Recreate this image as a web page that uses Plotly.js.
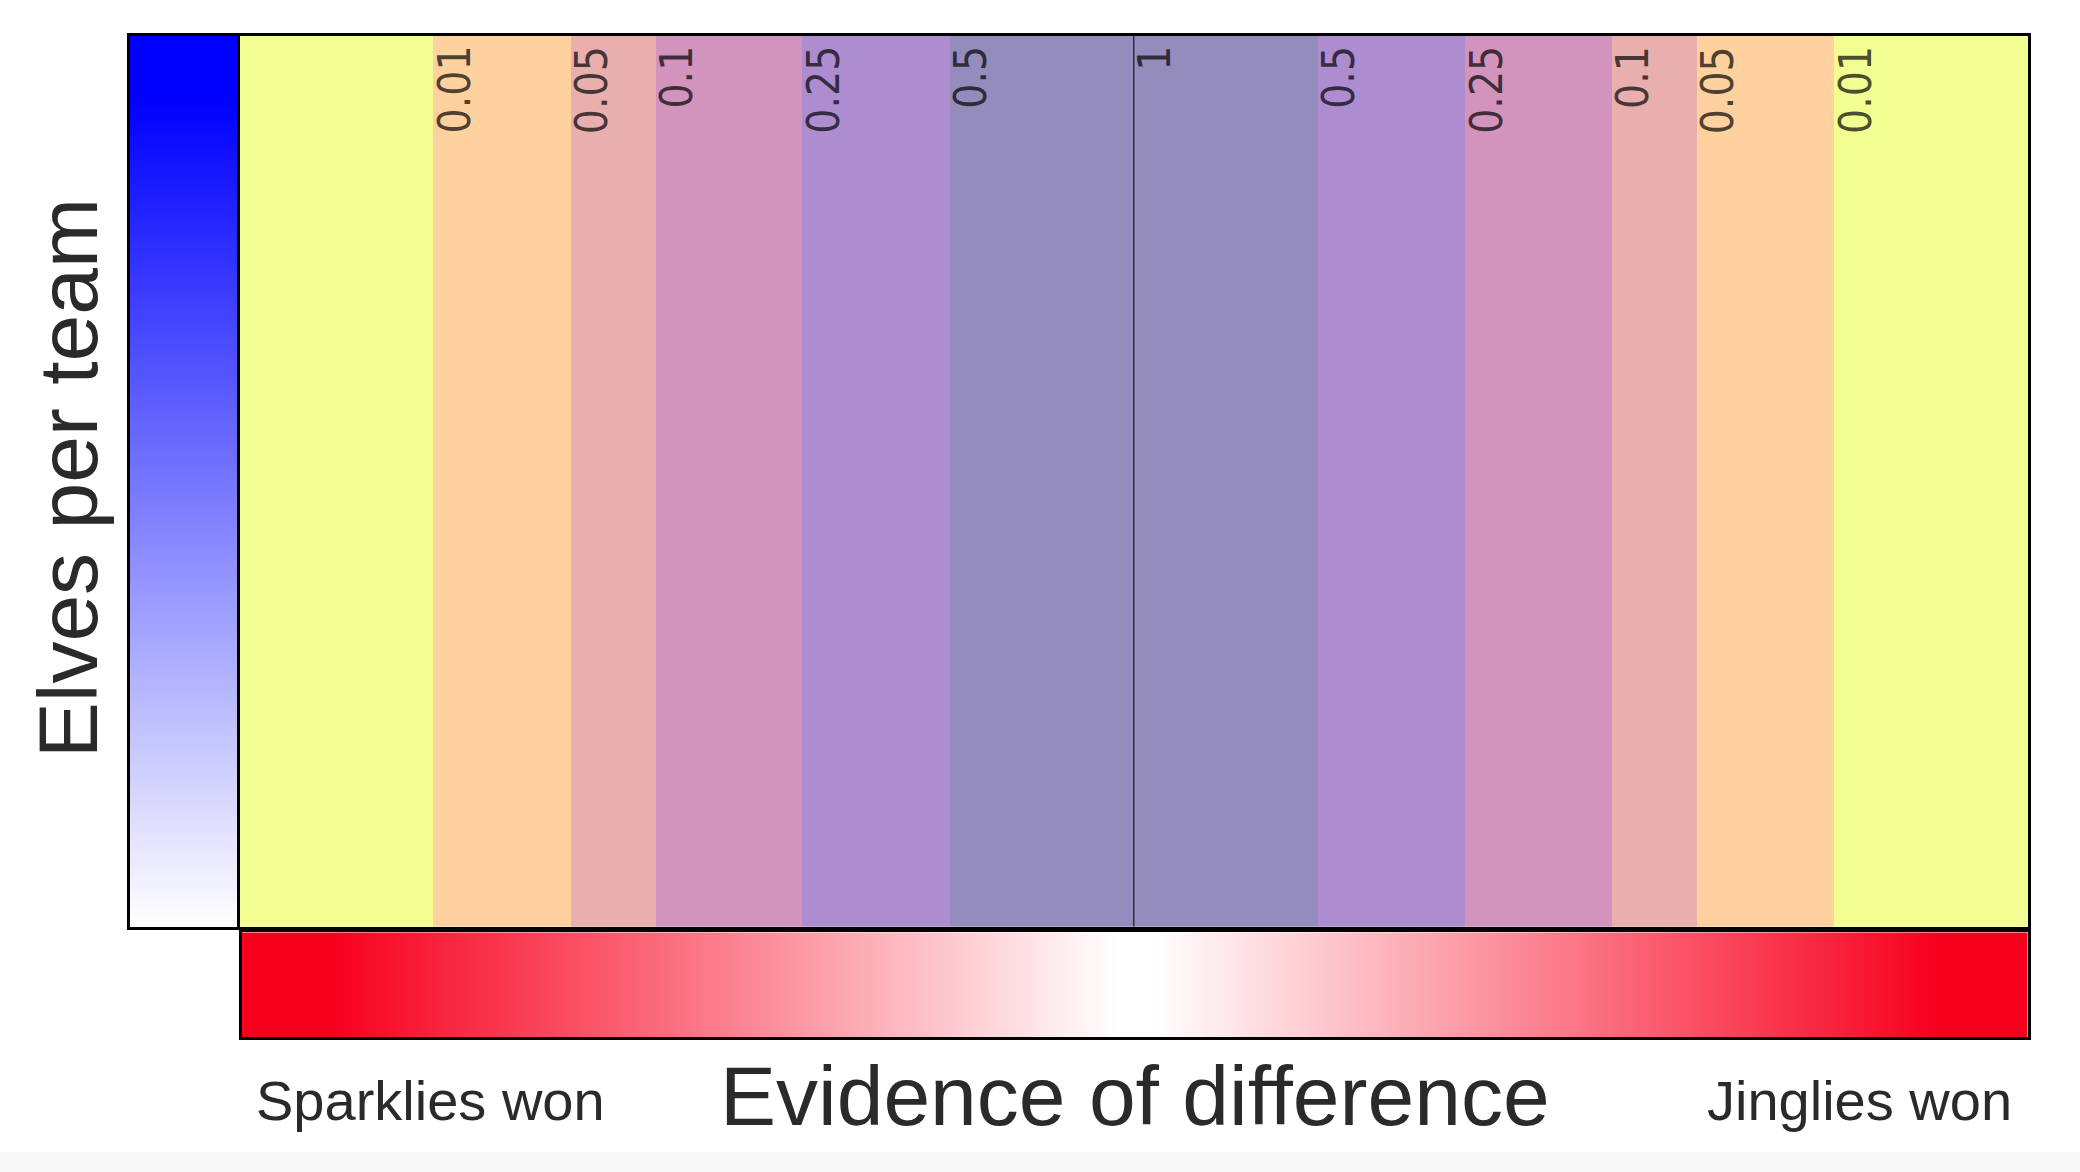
<!DOCTYPE html>
<html>
<head>
<meta charset="utf-8">
<script src="https://cdn.plot.ly/plotly-3.0.1.min.js"></script>
<style>
  html, body { margin: 0; padding: 0; background: #f8f8f8; }
  #chart { width: 2080px; height: 1152px; background: #ffffff; }
</style>
</head>
<body>
<div id="chart"></div>
<script>
// ---- data ----
// band edges on the "evidence of difference" axis (-1 = Sparklies extreme, +1 = Jinglies extreme)
const bandEdges = [-1, -0.784, -0.630, -0.535, -0.371, -0.206, 0, 0.206, 0.371, 0.535, 0.630, 0.784, 1];
// colour level of each band (0 = strongest evidence, 5 = none)
const bandLevels = [0, 1, 2, 3, 4, 5, 5, 4, 3, 2, 1, 0];
// p-value labels placed at the inner band edges
const pLabels = ['0.01', '0.05', '0.1', '0.25', '0.5', '1', '0.5', '0.25', '0.1', '0.05', '0.01'];
const bandColors = ['#f2fe91', '#fed19e', '#e9aeae', '#d293bc', '#ad8cd0', '#948cbd'];

// evidence colour bar (red): strength at left end, centre, right end
const evidenceX = [-1, 0, 1];
const evidenceZ = [1, 0, 1];
// elves-per-team colour bar (blue): bottom to top
const elvesY = [0, 1];
const elvesZ = [0, 1];

const titleX = 'Evidence of difference';
const titleY = 'Elves per team';
const leftNote = 'Sparklies won';
const rightNote = 'Jinglies won';

// ---- layout helpers ----
const W = 2080, H = 1152;
const px = v => v / W;
const py = v => 1 - v / H;

const bandScale = bandColors.map((c, i) => [i / (bandColors.length - 1), c]);

const traces = [
  {
    type: 'heatmap',
    x: bandEdges,
    y: [0, 1],
    z: [bandLevels],
    zmin: 0, zmax: 5,
    colorscale: bandScale,
    showscale: false,
    zsmooth: false,
    hoverinfo: 'skip',
    xaxis: 'x', yaxis: 'y'
  },
  {
    type: 'scatter',
    mode: 'lines',
    x: [0, 0],
    y: [0, 1],
    line: { color: '#222222', width: 1.3 },
    hoverinfo: 'skip',
    showlegend: false,
    xaxis: 'x', yaxis: 'y'
  },
  {
    type: 'heatmap',
    x: evidenceX,
    y: [0, 1],
    z: [evidenceZ, evidenceZ],
    zmin: 0, zmax: 1,
    colorscale: [[0, '#ffffff'], [0.02, '#ffffff'], [0.9, '#f7001e'], [1, '#f7001e']],
    showscale: false,
    zsmooth: 'best',
    hoverinfo: 'skip',
    xaxis: 'x2', yaxis: 'y2'
  },
  {
    type: 'heatmap',
    x: [0, 1],
    y: elvesY,
    z: elvesZ.map(v => [v, v]),
    zmin: 0, zmax: 1,
    colorscale: [[0, '#ffffff'], [0.93, '#0000ff'], [1, '#0000ff']],
    showscale: false,
    zsmooth: 'best',
    hoverinfo: 'skip',
    xaxis: 'x3', yaxis: 'y3'
  }
];

const boxAxis = extra => Object.assign({
  showgrid: false, zeroline: false, showticklabels: false, ticks: '',
  showline: true, mirror: true, linecolor: '#000000', linewidth: 3,
  fixedrange: true
}, extra);

const labelFont = { family: '"Liberation Sans Narrow", "Arial Narrow", "DejaVu Sans Condensed", sans-serif', size: 44, color: 'rgba(0,0,0,0.7)' };
const titleFont = { family: '"Liberation Sans", Arial, Helvetica, sans-serif', size: 84, color: '#2a2a2a' };
const noteFont = { family: '"Liberation Sans", Arial, Helvetica, sans-serif', size: 56, color: '#2a2a2a' };

const annotations = pLabels.map((t, i) => ({
  x: bandEdges[i + 1], y: 1, xref: 'x', yref: 'y',
  text: t, textangle: -90, xanchor: 'left', yanchor: 'top',
  xshift: -7, yshift: -8, showarrow: false, font: labelFont
}));

annotations.push(
  { x: px(1135), y: py(1096), xref: 'paper', yref: 'paper', text: titleX, showarrow: false,
    xanchor: 'center', yanchor: 'middle', font: titleFont },
  { x: px(430.5), y: py(1100.5), xref: 'paper', yref: 'paper', text: leftNote, showarrow: false,
    xanchor: 'center', yanchor: 'middle', font: noteFont },
  { x: px(1859), y: py(1100.5), xref: 'paper', yref: 'paper', text: rightNote, showarrow: false,
    xanchor: 'center', yanchor: 'middle', font: noteFont },
  { x: px(68.8), y: py(478.5), xref: 'paper', yref: 'paper', text: titleY, showarrow: false,
    textangle: -90, xanchor: 'center', yanchor: 'middle', font: titleFont }
);

const layout = {
  width: W, height: H,
  margin: { l: 0, r: 0, t: 0, b: 0, pad: 0 },
  paper_bgcolor: '#ffffff',
  plot_bgcolor: '#ffffff',
  showlegend: false,
  xaxis: boxAxis({ domain: [px(240), px(2027.5)], range: [-1, 1], anchor: 'y' }),
  yaxis: boxAxis({ domain: [py(926.7), py(36)], range: [0, 1], anchor: 'x' }),
  xaxis2: boxAxis({ domain: [px(242), px(2027.5)], range: [-1, 1], anchor: 'y2' }),
  yaxis2: boxAxis({ domain: [py(1037), py(932.3)], range: [0, 1], anchor: 'x2' }),
  xaxis3: boxAxis({ domain: [px(130), px(237)], range: [0, 1], anchor: 'y3' }),
  yaxis3: boxAxis({ domain: [py(926.7), py(36)], range: [0, 1], anchor: 'x3' }),
  annotations: annotations
};

Plotly.newPlot('chart', traces, layout, { staticPlot: true, displayModeBar: false });
</script>
</body>
</html>
